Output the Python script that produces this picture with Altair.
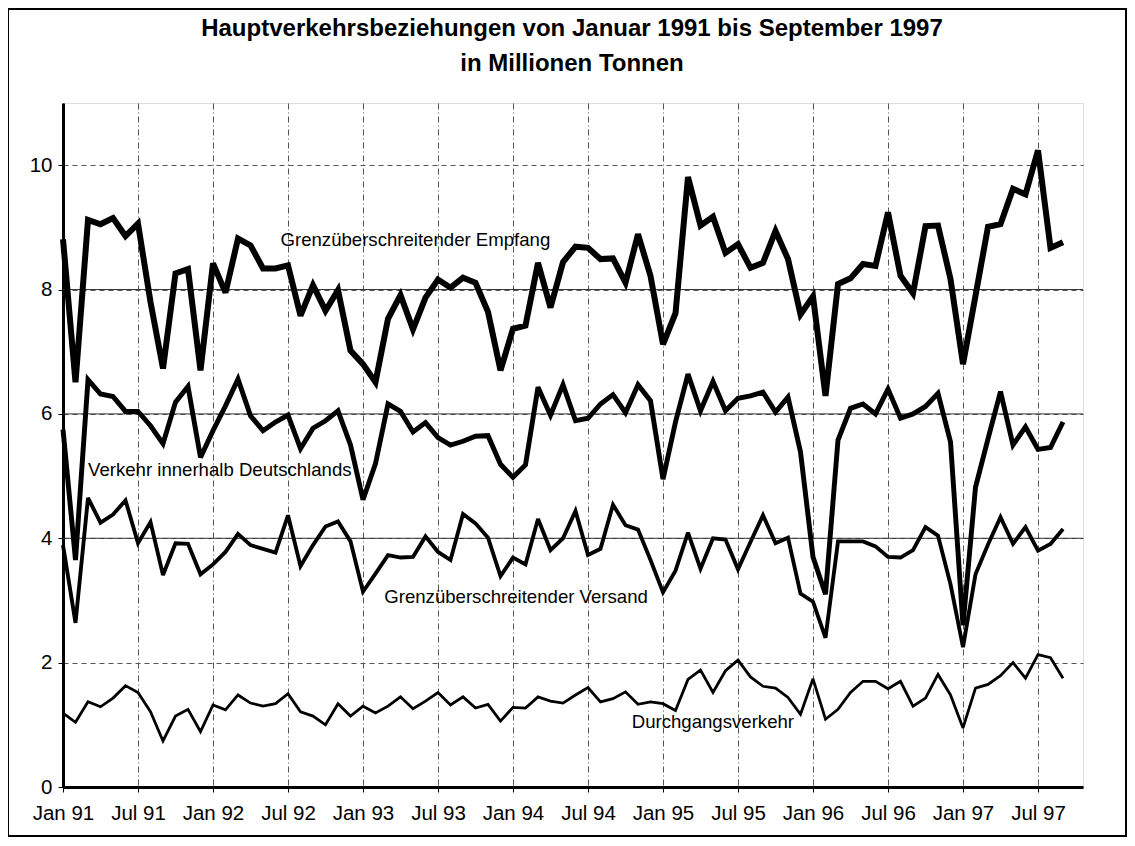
import json
import altair as alt
import pandas as pd

# ---------------- data ----------------
months = list(range(81))  # 0 = Jan 1991 ... 80 = Sep 1997
tick_values = list(range(0, 79, 6))
tick_labels = ["Jan 91", "Jul 91", "Jan 92", "Jul 92", "Jan 93", "Jul 93", "Jan 94",
               "Jul 94", "Jan 95", "Jul 95", "Jan 96", "Jul 96", "Jan 97", "Jul 97"]

series_names = ["Grenzüberschreitender Empfang", "Verkehr innerhalb Deutschlands",
                "Grenzüberschreitender Versand", "Durchgangsverkehr"]

empfang = [8.81, 6.51, 9.12, 9.05, 9.15, 8.86, 9.06, 7.80, 6.73, 8.26, 8.33, 6.70,
           8.42, 7.95, 8.82, 8.71, 8.34, 8.34, 8.39, 7.58, 8.07, 7.66, 7.99, 7.02,
           6.80, 6.51, 7.53, 7.91, 7.36, 7.87, 8.16, 8.03, 8.19, 8.11, 7.64, 6.70,
           7.37, 7.42, 8.43, 7.71, 8.44, 8.69, 8.67, 8.49, 8.50, 8.11, 8.89, 8.22,
           7.12, 7.62, 9.81, 9.03, 9.17, 8.59, 8.73, 8.35, 8.43, 8.94, 8.49, 7.60,
           7.89, 6.29, 8.09, 8.18, 8.41, 8.38, 9.24, 8.22, 7.94, 9.02, 9.03, 8.17,
           6.80, 7.90, 9.01, 9.05, 9.62, 9.53, 10.24, 8.67, 8.76]

inland = [5.75, 3.65, 6.55, 6.32, 6.28, 6.04, 6.04, 5.81, 5.52, 6.19, 6.44, 5.30,
          5.73, 6.13, 6.56, 5.97, 5.73, 5.87, 5.98, 5.44, 5.77, 5.89, 6.05, 5.50,
          4.62, 5.20, 6.16, 6.04, 5.71, 5.86, 5.62, 5.50, 5.56, 5.64, 5.65, 5.19,
          4.98, 5.18, 6.43, 5.98, 6.47, 5.89, 5.93, 6.16, 6.31, 6.02, 6.47, 6.21,
          4.95, 5.87, 6.64, 6.05, 6.52, 6.05, 6.25, 6.29, 6.35, 6.03, 6.27, 5.39,
          3.70, 3.10, 5.58, 6.09, 6.16, 6.00, 6.40, 5.93, 6.00, 6.12, 6.33, 5.55,
          2.60, 4.82, 5.60, 6.36, 5.50, 5.79, 5.43, 5.46, 5.87]

versand = [3.89, 2.64, 4.65, 4.25, 4.38, 4.61, 3.92, 4.26, 3.41, 3.92, 3.91, 3.42,
           3.58, 3.78, 4.07, 3.89, 3.83, 3.77, 4.37, 3.55, 3.89, 4.19, 4.27, 3.95,
           3.14, 3.43, 3.73, 3.69, 3.70, 4.03, 3.78, 3.65, 4.39, 4.24, 4.01, 3.39,
           3.69, 3.58, 4.31, 3.81, 4.00, 4.44, 3.73, 3.83, 4.54, 4.21, 4.14, 3.65,
           3.13, 3.48, 4.09, 3.51, 4.00, 3.98, 3.50, 3.94, 4.37, 3.92, 4.01, 3.11,
           2.98, 2.40, 3.95, 3.95, 3.95, 3.87, 3.70, 3.69, 3.81, 4.18, 4.04, 3.26,
           2.25, 3.42, 3.90, 4.34, 3.91, 4.18, 3.80, 3.91, 4.15]

durchgang = [1.19, 1.04, 1.37, 1.29, 1.43, 1.63, 1.52, 1.21, 0.74, 1.14, 1.25, 0.89,
             1.32, 1.24, 1.48, 1.35, 1.30, 1.34, 1.50, 1.21, 1.14, 1.00, 1.34, 1.14,
             1.30, 1.19, 1.30, 1.45, 1.26, 1.38, 1.52, 1.32, 1.45, 1.27, 1.33, 1.06,
             1.28, 1.27, 1.45, 1.38, 1.35, 1.48, 1.60, 1.37, 1.42, 1.53, 1.33, 1.37,
             1.34, 1.23, 1.73, 1.88, 1.52, 1.87, 2.04, 1.77, 1.62, 1.59, 1.44, 1.17,
             1.74, 1.09, 1.25, 1.52, 1.70, 1.70, 1.58, 1.70, 1.30, 1.43, 1.81, 1.48,
             0.95, 1.59, 1.65, 1.79, 2.00, 1.75, 2.13, 2.08, 1.75]

label_x = [17.4, 2.0, 25.7, 45.5]
label_y = [8.79, 5.10, 3.06, 1.05]

y_ticks = [0, 2, 4, 6, 8, 10]
solid_grid = [4, 6, 8]

title_lines = ["Hauptverkehrsbeziehungen von Januar 1991 bis September 1997",
               "in Millionen Tonnen"]

# ---------------- tables ----------------
rows = []
for name, vals in zip(series_names, [empfang, inland, versand, durchgang]):
    for m, v in zip(months, vals):
        rows.append({"m": m, "v": v, "series": name})
df = pd.DataFrame(rows)
labels_df = pd.DataFrame({"series": series_names, "m": label_x, "v": label_y})
grid_df = pd.DataFrame({"v": solid_grid})
one_df = pd.DataFrame({"k": [0]})

FONT = "Liberation Sans"
label_expr = json.dumps(tick_labels) + "[round(datum.value / 6)]"

x_scale = alt.Scale(domain=[0, 81.6], nice=False, zero=False)
y_scale = alt.Scale(domain=[0, 11], nice=False)

x_enc = alt.X("m:Q", scale=x_scale, axis=alt.Axis(
    values=tick_values, labelExpr=label_expr, title=None, grid=True,
    gridDash=[6, 3, 1, 3], gridColor="#555555", gridWidth=1,
    domainColor="black", domainWidth=3, tickColor="black", tickSize=5,
    labelOverlap=False, labelFlush=False,
    labelFontSize=20.5, labelFont=FONT, labelColor="black", labelPadding=11))
y_enc = alt.Y("v:Q", scale=y_scale, axis=alt.Axis(
    values=y_ticks, format="d", title=None, grid=True, gridDash=[5, 4],
    gridColor="#555555", labelOverlap=False, labelFlush=False,
    gridWidth=1, domainColor="black", domainWidth=3, tickColor="black", tickSize=5,
    labelFontSize=20.5, labelFont=FONT, labelColor="black", labelPadding=6))

lines = alt.Chart(df).mark_line(color="black", strokeJoin="miter", strokeMiterLimit=3).encode(
    x=x_enc, y=y_enc,
    detail="series:N",
    strokeWidth=alt.StrokeWidth("series:N", scale=alt.Scale(
        domain=series_names, range=[6, 2.8, 6, 2.8]), legend=None),
)

solid = alt.Chart(grid_df).mark_rule(color="#333333", strokeWidth=1).encode(
    y=alt.Y("v:Q", scale=y_scale))

texts = alt.Chart(labels_df).mark_text(
    align="left", baseline="middle", fontSize=18.6, font=FONT, color="black").encode(
    x=alt.X("m:Q", scale=x_scale), y=alt.Y("v:Q", scale=y_scale), text="series:N")

title1 = alt.Chart(one_df).mark_text(
    align="center", baseline="alphabetic", fontSize=24, fontWeight="bold",
    font=FONT, color="black", text=title_lines[0]).encode(
    x=alt.value(509), y=alt.value(-67))
title2 = alt.Chart(one_df).mark_text(
    align="center", baseline="alphabetic", fontSize=24, fontWeight="bold",
    font=FONT, color="black", text=title_lines[1]).encode(
    x=alt.value(509), y=alt.value(-32))

frame = alt.Chart(one_df).mark_rect(fill=None, stroke="black", strokeWidth=2).encode(
    x=alt.value(-55), x2=alt.value(1063), y=alt.value(-94), y2=alt.value(733))

chart = alt.layer(solid, lines, texts, title1, title2, frame).properties(
    width=1020, height=684,
    autosize=alt.AutoSizeParams(type="none"),
    padding={"left": 55, "top": 95, "right": 44, "bottom": 51},
).configure_view(stroke="black", strokeWidth=2).configure(background="white")

chart.save("out.html", embed_options={"renderer": "svg", "actions": False})
